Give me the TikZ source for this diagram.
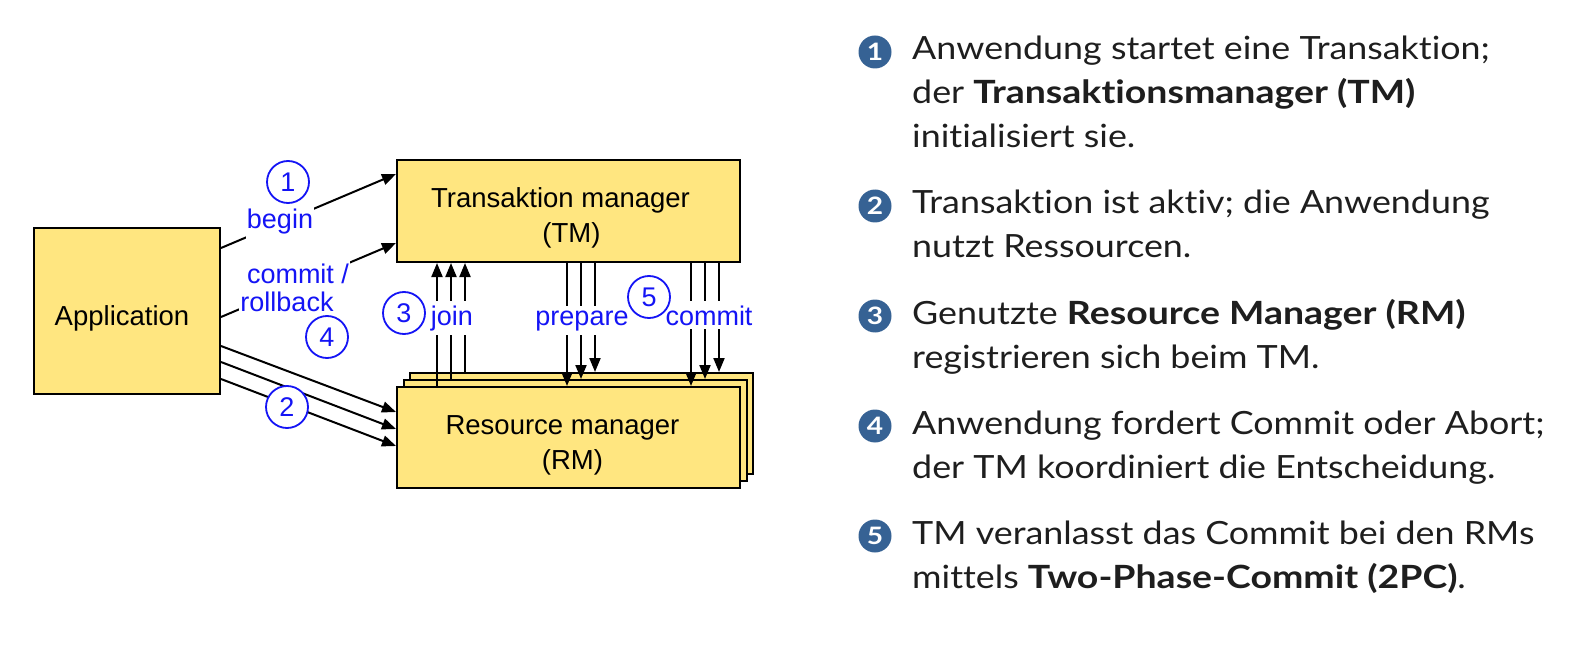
\documentclass[tikz,border=0pt]{standalone}
\usepackage{fontspec}
\setmainfont{Liberation Sans}
\newfontfamily\rfont[Ligatures={NoCommon},FakeStretch=1.12,BoldFeatures={FakeStretch=1.17}]{Lato}
\usetikzlibrary{calc,arrows.meta}
\definecolor{boxyellow}{RGB}{255,230,128}
\definecolor{lblblue}{RGB}{20,20,245}
\definecolor{bulletblue}{RGB}{54,98,148}
\definecolor{txtblack}{RGB}{30,30,30}
\begin{document}
\begin{tikzpicture}[x=1pt,y=-1pt,
  box/.style={draw=black,line width=2pt,fill=boxyellow,inner sep=0pt},
  btxt/.style={anchor=base,inner sep=0pt,font=\fontsize{27.5}{33}\selectfont},
  arr/.style={line width=2pt,-{Triangle[length=14pt,width=11pt]}},
  lbl/.style={text=lblblue,font=\fontsize{27}{30}\selectfont,fill=white,inner xsep=1pt,inner ysep=4pt},
  num/.style={circle,draw=lblblue,line width=1.8pt,fill=white,text=lblblue,minimum size=42pt,inner sep=0pt,font=\fontsize{27}{30}\selectfont},
  bul/.style={circle,fill=bulletblue,text=white,minimum size=33pt,inner sep=0pt,font=\rfont\bfseries\fontsize{24}{24}\selectfont},
  rt/.style={anchor=base west,inner sep=0pt,text=txtblack,font=\rfont\fontsize{32}{32}\selectfont}
]
\useasboundingbox (0,0) rectangle (1570,652);
% boxes
\node[box,minimum width=186pt,minimum height=166pt] (app) at (127,311) {};
\node[btxt] (appt) at ($(app.center)+(-5,14)$) {Application};
\node[box,minimum width=343pt,minimum height=102pt] (tm) at (568.5,211) {};
\node[btxt] (tmt1) at ($(tm.center)+(-8,-3)$) {Transaktion manager};
\node[btxt] (tmt2) at ($(tm.center)+(3,32)$) {(TM)};
\node[box,minimum width=343pt,minimum height=101pt] (rmC) at (581.5,423.5) {};
\node[box,minimum width=343pt,minimum height=101pt] (rmB) at (575,430.5) {};
\node[box,minimum width=343pt,minimum height=101pt] (rmA) at (568.5,437.5) {};
\node[btxt] (rmt1) at ($(rmA.center)+(-6,-3.5)$) {Resource manager};
\node[btxt] (rmt2) at ($(rmA.center)+(4,31.5)$) {(RM)};
% app -> tm
\draw[arr] ($(app.north east)+(0,21)$) -- ($(tm.north west)+(0,15)$);
\draw[arr] ($(app.north east)+(0,90)$) -- ($(tm.north west)+(0,84)$);
% app -> rm
\draw[arr] ($(app.north east)+(0,119)$) -- ($(rmA.north west)+(0,26)$);
\draw[arr] ($(app.north east)+(0,135)$) -- ($(rmA.north west)+(0,43)$);
\draw[arr] ($(app.north east)+(0,152)$) -- ($(rmA.north west)+(0,60)$);
% vertical x positions
\coordinate (j1) at ($(tm.south west)+(41,0)$);
\coordinate (j2) at ($(tm.south west)+(55,0)$);
\coordinate (j3) at ($(tm.south west)+(69,0)$);
\coordinate (p1) at ($(tm.south west)+(171,0)$);
\coordinate (p2) at ($(tm.south west)+(185,0)$);
\coordinate (p3) at ($(tm.south west)+(199,0)$);
\coordinate (c1) at ($(tm.south west)+(295,0)$);
\coordinate (c2) at ($(tm.south west)+(309,0)$);
\coordinate (c3) at ($(tm.south west)+(323,0)$);
\draw[arr] (j1 |- rmA.north) -- (j1);
\draw[arr] (j2 |- rmB.north) -- (j2);
\draw[arr] (j3 |- rmC.north) -- (j3);
\draw[arr] (p1) -- (p1 |- rmA.north);
\draw[arr] (p2) -- (p2 |- rmB.north);
\draw[arr] (p3) -- (p3 |- rmC.north);
\draw[arr] (c1) -- (c1 |- rmA.north);
\draw[arr] (c2) -- (c2 |- rmB.north);
\draw[arr] (c3) -- (c3 |- rmC.north);
% labels
\node[lbl,anchor=base] (begin) at (280,229) {begin};
\node[lbl,anchor=base] (commitl) at (298,283) {commit /};
\node[lbl,anchor=base] (rollback) at (287,311) {rollback};
\node[lbl,anchor=base] (join) at (452,325) {join};
\node[lbl,anchor=base] (prepare) at (582,325) {prepare};
\node[lbl,anchor=base] (commit) at (709,325) {commit};
\node[num] (n1) at (288,182) {1};
\node[num] (n2) at (287,407) {2};
\node[num] (n3) at (404,313) {3};
\node[num] (n4) at (327,337) {4};
\node[num] (n5) at (649,297) {5};
% right text
\node[bul] (b1) at (875,52) {1};
\node[rt] (l1a) at (912,60) {Anwendung startet eine Transaktion;};
\node[rt] (l1b) at (912,104) {der \textbf{Transaktionsmanager (TM)}};
\node[rt] (l1c) at (912,148) {initialisiert sie.};
\node[bul] (b2) at (875,206) {2};
\node[rt] (l2a) at (912,214) {Transaktion ist aktiv; die Anwendung};
\node[rt] (l2b) at (912,258) {nutzt Ressourcen.};
\node[bul] (b3) at (875,316) {3};
\node[rt] (l3a) at (912,324) {Genutzte \textbf{Resource Manager (RM)}};
\node[rt] (l3b) at (912,368) {registrieren sich beim TM.};
\node[bul] (b4) at (875,426) {4};
\node[rt] (l4a) at (912,434) {Anwendung fordert Commit oder Abort;};
\node[rt] (l4b) at (912,478) {der TM koordiniert die Entscheidung.};
\node[bul] (b5) at (875,536) {5};
\node[rt] (l5a) at (912,544) {TM veranlasst das Commit bei den RMs};
\node[rt] (l5b) at (912,588) {mittels \textbf{Two-Phase-Commit (2PC)}.};
\end{tikzpicture}
\end{document}
